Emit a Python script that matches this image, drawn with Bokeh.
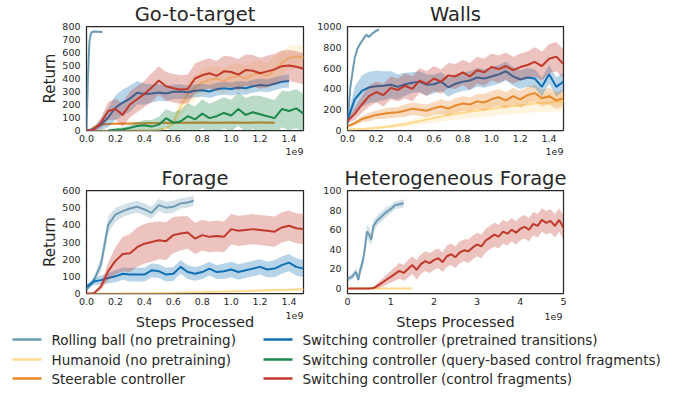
import numpy as np
from bokeh.plotting import figure
from bokeh.layouts import column, row
from bokeh.models import Range1d, FixedTicker, Title, PrintfTickFormatter
from bokeh.core.properties import value
from bokeh.embed import file_html
from bokeh.resources import INLINE

FONT = "DejaVu Sans"
TXT = "#262626"

# ---------------- series / colours ----------------
names = ["Rolling ball (no pretraining)", "Humanoid (no pretraining)", "Steerable controller",
         "Switching controller (pretrained transitions)",
         "Switching controller (query-based control fragments)",
         "Switching controller (control fragments)"]
colors = ["#6e9bb4", "#fed98e", "#e8872a", "#1070b4", "#1e874b", "#c0392b"]

# ---------------- shared step grids (x in units of 1e9 steps) ----------------
steps_a = [0.00, 0.05, 0.10, 0.15, 0.20, 0.25, 0.30, 0.35, 0.40, 0.45, 0.50, 0.55, 0.60, 0.65,
           0.70, 0.75, 0.80, 0.85, 0.90, 0.95, 1.00, 1.05, 1.10, 1.15, 1.20, 1.25, 1.30, 1.35,
           1.40, 1.45, 1.50]
steps_c = [0.0, 0.1, 0.2, 0.3, 0.4, 0.5, 0.6, 0.7, 0.8, 0.9, 1.0, 1.1, 1.2, 1.3, 1.4, 1.5]

# ---------------- Go-to-target ----------------
gtt_ball_x = [0.0, 0.01, 0.02, 0.03, 0.04, 0.06, 0.08, 0.10, 0.11]
gtt_ball_y = [0, 420, 680, 745, 758, 762, 760, 757, 760]
gtt_ball_s = [0, 40, 30, 15, 10, 8, 8, 8, 8]

gtt_hum_x = steps_a
gtt_hum_y = [0, 0, 0, 0, 0, 0, 0, 0, 2, 3, 5, 15, 60, 180, 280, 330, 370, 390, 400, 380, 410,
             420, 400, 430, 440, 420, 470, 520, 560, 570, 560]
gtt_hum_s = [0, 0, 0, 0, 0, 0, 0, 0, 2, 3, 5, 10, 30, 70, 90, 100, 100, 100, 100, 100, 100,
             100, 100, 100, 100, 100, 100, 90, 90, 90, 90]

gtt_steer_x = [0.0, 0.03, 0.05, 0.1, 0.15, 0.2, 0.3, 0.4, 0.5, 0.6, 0.7, 0.8, 0.9, 1.0, 1.1, 1.2, 1.3]
gtt_steer_y = [0, 5, 25, 45, 50, 52, 54, 56, 58, 60, 60, 62, 60, 61, 60, 62, 60]
gtt_steer_s = [0, 3, 6, 8, 8, 8, 8, 8, 8, 8, 8, 8, 8, 8, 8, 8, 8]

gtt_pre_x = steps_a[:29]
gtt_pre_y = [0, 10, 45, 100, 175, 215, 245, 290, 280, 285, 292, 285, 298, 300, 295, 305, 310,
             300, 318, 325, 320, 330, 325, 340, 350, 345, 360, 375, 380]
gtt_pre_s = [0, 15, 45, 75, 95, 100, 100, 90, 80, 70, 65, 60, 55, 55, 50, 50, 50, 50, 50, 50,
             50, 50, 50, 50, 50, 50, 50, 50, 50]

gtt_query_x = steps_a[3:]
gtt_query_y = [0, 5, 10, 20, 35, 40, 30, 45, 95, 60, 70, 110, 85, 130, 95, 110, 135, 115, 165,
               120, 140, 125, 110, 95, 165, 150, 170, 130]
gtt_query_s = [5, 10, 15, 20, 30, 40, 50, 60, 70, 80, 90, 100, 100, 110, 110, 120, 120, 120,
               130, 130, 130, 140, 140, 140, 140, 150, 150, 150]

gtt_frag_x = steps_a
gtt_frag_y = [0, 5, 60, 150, 165, 120, 200, 240, 280, 330, 385, 340, 325, 315, 320, 400, 425,
              440, 420, 455, 450, 430, 465, 460, 440, 455, 470, 495, 500, 490, 475]
gtt_frag_s = [0, 10, 40, 70, 80, 90, 100, 100, 100, 110, 110, 110, 110, 110, 110, 115, 115,
              115, 115, 120, 120, 120, 120, 120, 120, 120, 120, 120, 120, 120, 120]

# ---------------- Walls ----------------
walls_ball_x = [0.0, 0.01, 0.02, 0.035, 0.05, 0.07, 0.10, 0.13, 0.15, 0.17, 0.20, 0.22]
walls_ball_y = [50, 250, 420, 560, 700, 790, 860, 920, 900, 930, 960, 970]
walls_ball_s = [10, 30, 30, 25, 20, 20, 15, 15, 15, 15, 15, 15]

walls_hum_x = steps_c
walls_hum_y = [10, 15, 25, 40, 60, 90, 120, 150, 170, 190, 210, 230, 240, 260, 270, 280]
walls_hum_s = [5, 8, 12, 18, 25, 35, 45, 55, 60, 65, 70, 75, 80, 85, 90, 90]

walls_steer_x = steps_a
walls_steer_y = [40, 70, 110, 130, 150, 160, 170, 175, 190, 210, 200, 190, 215, 230, 210, 240,
                 260, 250, 280, 270, 300, 320, 290, 330, 300, 340, 360, 310, 330, 290, 310]
walls_steer_s = [10, 20, 30, 40, 40, 50, 50, 50, 60, 60, 60, 60, 60, 70, 70, 70, 70, 70, 70,
                 80, 80, 80, 80, 80, 80, 80, 80, 80, 80, 80, 80]

walls_pre_x = steps_a
walls_pre_y = [100, 300, 380, 415, 425, 430, 440, 420, 445, 460, 470, 440, 445, 470, 415, 450,
               470, 480, 510, 500, 520, 540, 570, 520, 490, 510, 500, 420, 540, 420, 470]
walls_pre_s = [40, 120, 150, 150, 150, 140, 130, 120, 110, 100, 100, 100, 90, 90, 90, 90, 90,
               90, 90, 90, 90, 90, 90, 90, 90, 90, 90, 90, 90, 90, 90]

walls_frag_x = steps_a
walls_frag_y = [90, 160, 250, 330, 370, 340, 410, 390, 430, 400, 480, 450, 500, 470, 530, 520,
                560, 520, 580, 560, 610, 590, 620, 580, 610, 630, 660, 620, 690, 710, 640]
walls_frag_s = [20, 60, 80, 100, 100, 110, 110, 110, 120, 120, 120, 120, 120, 120, 120, 120,
                120, 130, 130, 130, 130, 130, 130, 130, 130, 130, 140, 140, 140, 140, 140]

# ---------------- Forage ----------------
for_ball_x = [0.0, 0.05, 0.10, 0.15, 0.20, 0.25, 0.30, 0.35, 0.40, 0.45, 0.50, 0.55, 0.60,
              0.65, 0.70, 0.74]
for_ball_y = [20, 75, 170, 400, 460, 480, 495, 505, 490, 470, 515, 500, 505, 525, 530, 540]
for_ball_s = [5, 20, 40, 50, 40, 35, 35, 35, 35, 35, 35, 35, 35, 30, 30, 30]

for_hum_x = steps_c
for_hum_y = [0, 0, 0, 1, 2, 3, 4, 6, 8, 10, 12, 14, 17, 20, 22, 25]
for_hum_s = [0, 0, 0, 1, 1, 2, 2, 3, 3, 4, 4, 5, 5, 6, 6, 7]

for_pre_x = steps_a
for_pre_y = [40, 70, 78, 90, 100, 115, 110, 110, 110, 135, 130, 110, 115, 155, 125, 115, 125,
             145, 125, 130, 140, 125, 135, 145, 155, 140, 145, 165, 180, 155, 145]
for_pre_s = [10, 20, 25, 30, 35, 35, 40, 40, 40, 40, 40, 40, 40, 40, 40, 40, 40, 40, 40, 45,
             45, 45, 45, 45, 45, 45, 50, 50, 50, 50, 50]

for_frag_x = steps_a
for_frag_y = [0, 0, 40, 130, 190, 230, 235, 270, 290, 300, 310, 305, 340, 350, 355, 320, 340,
              330, 335, 330, 375, 365, 370, 375, 370, 365, 360, 385, 395, 380, 375]
for_frag_s = [0, 0, 20, 50, 80, 100, 110, 115, 115, 115, 110, 110, 105, 100, 95, 90, 90, 90,
              90, 90, 88, 88, 88, 88, 88, 88, 88, 88, 88, 88, 88]

# ---------------- Heterogeneous Forage ----------------
het_ball_x = [0.0, 0.1, 0.2, 0.25, 0.3, 0.35, 0.4, 0.45, 0.5, 0.55, 0.6, 0.7, 0.8, 0.9, 1.0,
              1.1, 1.2, 1.3]
het_ball_y = [10, 12, 17, 9, 20, 27, 40, 58, 55, 50, 64, 70, 74, 78, 81, 85, 86, 87]
het_ball_s = [3, 3, 4, 4, 5, 6, 7, 7, 7, 6, 6, 5, 5, 5, 4, 4, 4, 4]

het_hum_x = [0.0, 0.5, 1.0, 1.5]
het_hum_y = [0, 0, 0, 0]
het_hum_s = [0, 0, 0, 0]

het_frag_x = [0.0, 0.1, 0.2, 0.3, 0.4, 0.5, 0.6, 0.7, 0.8, 0.9, 1.0, 1.1, 1.2, 1.3, 1.4, 1.5,
              1.6, 1.7, 1.8, 1.9, 2.0, 2.1, 2.2, 2.3, 2.4, 2.5, 2.6, 2.7, 2.8, 2.9, 3.0, 3.1,
              3.2, 3.3, 3.4, 3.5, 3.6, 3.7, 3.8, 3.9, 4.0, 4.1, 4.2, 4.3, 4.4, 4.5, 4.6, 4.7,
              4.8, 4.9, 5.0]
het_frag_y = [0, 0, 0, 0, 0, 0, 0.5, 3, 6, 9, 12, 15, 18, 16, 20, 24, 19, 25, 28, 26, 29, 31,
              27, 33, 35, 32, 37, 39, 38, 42, 45, 43, 49, 52, 55, 53, 58, 56, 60, 57, 61, 63,
              60, 66, 64, 70, 67, 69, 64, 70, 62]
het_frag_s = [0, 0, 0, 0, 0, 0, 1, 3, 4, 5, 6, 7, 8, 8, 9, 9, 10, 10, 10, 10, 10, 10, 10, 11,
              11, 11, 11, 11, 12, 12, 12, 12, 12, 12, 12, 12, 12, 12, 12, 12, 12, 12, 12, 12,
              12, 12, 12, 12, 12, 12, 12]

# ---------------- ticks ----------------
x_ticks_15 = [0.0, 0.2, 0.4, 0.6, 0.8, 1.0, 1.2, 1.4]
x_ticks_5 = [0, 1, 2, 3, 4, 5]
y_ticks_gtt = [0, 100, 200, 300, 400, 500, 600, 700, 800]
y_ticks_walls = [0, 200, 400, 600, 800, 1000]
y_ticks_forage = [0, 100, 200, 300, 400, 500, 600]
y_ticks_het = [0, 20, 40, 60, 80, 100]
offset_text = "1e9"
x_label = "Steps Processed"
y_label = "Return"


def make_title(text, align, size, standoff):
    t = Title()
    t.text = text
    t.align = align
    t.text_font = FONT
    t.text_font_size = size
    t.text_font_style = "normal"
    t.text_color = TXT
    t.standoff = standoff
    return t


def make_panel(title, width, height, bl, br, bt, bb, xr, yr, xt, yt, xfmt,
               ylabel=None, offset_below=True):
    p = figure(width=width, height=height, x_range=Range1d(*xr), y_range=Range1d(*yr),
               output_backend="svg", toolbar_location=None, title=title,
               min_border_left=bl, min_border_right=br, min_border_top=bt, min_border_bottom=bb)
    p.title.align = "center"
    p.title.text_font = FONT
    p.title.text_font_size = "19.5px"
    p.title.text_font_style = "normal"
    p.title.text_color = TXT
    p.title.standoff = 1
    p.xgrid.visible = False
    p.ygrid.visible = False
    p.outline_line_color = TXT
    p.outline_line_width = 1.25
    p.outline_line_alpha = 1.0
    p.background_fill_color = "white"
    p.border_fill_color = "white"
    for ax in (p.xaxis[0], p.yaxis[0]):
        ax.axis_line_color = None
        ax.major_tick_line_color = None
        ax.minor_tick_line_color = None
        ax.major_tick_out = 0
        ax.major_tick_in = 0
        ax.minor_tick_out = 0
        ax.minor_tick_in = 0
        ax.major_label_text_font = FONT
        ax.major_label_text_font_size = "9.5px"
        ax.major_label_text_color = TXT
    p.xaxis.ticker = FixedTicker(ticks=xt)
    p.yaxis.ticker = FixedTicker(ticks=yt)
    p.xaxis.formatter = PrintfTickFormatter(format=xfmt)
    p.xaxis.major_label_standoff = 4
    p.yaxis.major_label_standoff = 6
    if ylabel:
        p.yaxis.axis_label = ylabel
        p.yaxis.axis_label_text_font = FONT
        p.yaxis.axis_label_text_font_size = "15px"
        p.yaxis.axis_label_text_font_style = "normal"
        p.yaxis.axis_label_text_color = TXT
        p.yaxis.axis_label_standoff = 0
    if offset_below:
        p.add_layout(make_title(offset_text, "right", "9.5px", 3), "below")
    return p


def draw(p, idx, xs, ys, ss):
    assert len(xs) == len(ys) == len(ss)
    x = np.array(xs, dtype=float)
    y = np.array(ys, dtype=float)
    s = np.array(ss, dtype=float)
    p.varea(x=x, y1=y - s, y2=y + s, fill_color=colors[idx], fill_alpha=0.3)
    p.line(x, y, line_color=colors[idx], line_width=2)


W_LEFT = 313
W_RIGHT = 360

p1 = make_panel("Go-to-target", W_LEFT, 160, 86, 10, 26, 30, (0, 1.5), (0, 800),
                x_ticks_15, y_ticks_gtt, "%.1f", ylabel=y_label)
draw(p1, 0, gtt_ball_x, gtt_ball_y, gtt_ball_s)
draw(p1, 1, gtt_hum_x, gtt_hum_y, gtt_hum_s)
draw(p1, 2, gtt_steer_x, gtt_steer_y, gtt_steer_s)
draw(p1, 3, gtt_pre_x, gtt_pre_y, gtt_pre_s)
draw(p1, 4, gtt_query_x, gtt_query_y, gtt_query_s)
draw(p1, 5, gtt_frag_x, gtt_frag_y, gtt_frag_s)

p2 = make_panel("Walls", W_RIGHT, 160, 34, 110, 26, 30, (0, 1.5), (0, 1000),
                x_ticks_15, y_ticks_walls, "%.1f")
draw(p2, 0, walls_ball_x, walls_ball_y, walls_ball_s)
draw(p2, 1, walls_hum_x, walls_hum_y, walls_hum_s)
draw(p2, 2, walls_steer_x, walls_steer_y, walls_steer_s)
draw(p2, 3, walls_pre_x, walls_pre_y, walls_pre_s)
draw(p2, 5, walls_frag_x, walls_frag_y, walls_frag_s)

p3 = make_panel("Forage", W_LEFT, 149, 86, 10, 29, 16, (0, 1.5), (0, 600),
                x_ticks_15, y_ticks_forage, "%.1f", ylabel=y_label, offset_below=False)
draw(p3, 0, for_ball_x, for_ball_y, for_ball_s)
draw(p3, 1, for_hum_x, for_hum_y, for_hum_s)
draw(p3, 3, for_pre_x, for_pre_y, for_pre_s)
draw(p3, 5, for_frag_x, for_frag_y, for_frag_s)

p4 = make_panel("Heterogeneous Forage", W_RIGHT, 149, 34, 110, 30, 16, (0, 5), (-5, 100),
                x_ticks_5, y_ticks_het, "%d", offset_below=False)
draw(p4, 0, het_ball_x, het_ball_y, het_ball_s)
draw(p4, 1, het_hum_x, het_hum_y, het_hum_s)
draw(p4, 5, het_frag_x, het_frag_y, het_frag_s)

# ---------------- bottom strip: x labels, offset text, legend ----------------
LW, LH = 673, 86
leg = figure(width=LW, height=LH, x_range=Range1d(0, LW), y_range=Range1d(LH, 0),
             output_backend="svg", toolbar_location=None,
             min_border_left=0, min_border_right=0, min_border_top=0, min_border_bottom=0)
leg.axis.visible = False
leg.grid.visible = False
leg.outline_line_color = None
# x-axis labels under the two bottom panels (centred on their frames)
leg.text(x=[194.5, 455], y=[12.5, 12.5], text=[x_label, x_label], text_font=value(FONT),
         text_font_size="14.5px", text_baseline="middle", text_align="center", text_color=TXT)
# scale offset text at the right end of each bottom axis
leg.text(x=[303, 562], y=[6.0, 6.5], text=[offset_text, offset_text], text_font=value(FONT),
         text_font_size="9.5px", text_baseline="middle", text_align="right", text_color=TXT)
col_x = [12, 12, 12, 263, 263, 263]
row_y = [30, 50, 69, 30, 50, 69]
leg.segment(x0=col_x, y0=row_y, x1=[c + 29 for c in col_x], y1=row_y,
            line_color=colors, line_width=2.5)
leg.text(x=[c + 39 for c in col_x], y=row_y, text=names, text_font=value(FONT),
         text_font_size="13.5px", text_baseline="middle", text_align="left", text_color=TXT)

layout = column(row(p1, p2), row(p3, p4), leg)
open("out.html", "w").write(file_html(layout, INLINE))
